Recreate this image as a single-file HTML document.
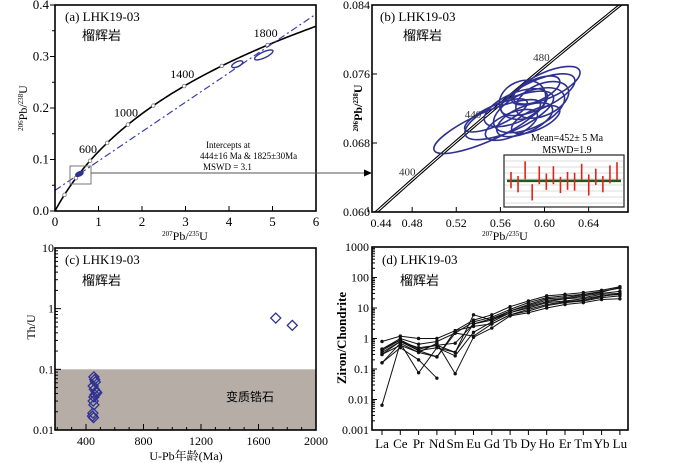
<!DOCTYPE html>
<html><head><meta charset="utf-8">
<style>
html,body{margin:0;padding:0;background:#fff;}
svg{display:block;font-family:"Liberation Serif","Noto Serif CJK SC",serif;}
.cn{font-family:"Liberation Sans","Noto Sans CJK SC",sans-serif;}
.cns{font-family:"Liberation Serif","Noto Serif CJK SC",serif;}
</style></head>
<body>
<svg id="fig" width="700" height="463" viewBox="0 0 700 463" xmlns="http://www.w3.org/2000/svg">
<defs>
<clipPath id="clipA"><rect x="55" y="5" width="261" height="206"/></clipPath>
<clipPath id="clipB"><rect x="372" y="5" width="256" height="207"/></clipPath>
</defs>
<g id="pa"></g>
<g id="pb"></g>
<g id="pc"></g>
<g id="pd"></g>
</svg>
<script>
// ---------- DATA ----------
// Panel a
const aTicksX = [0,1,2,3,4,5,6];
const aTicksY = [0.0,0.1,0.2,0.3,0.4];
const aAgeMarks = [200,400,600,800,1000,1200,1400,1600,1800,2000];
const aAgeLabels = [600,1000,1400,1800];
const interceptLower = 444;
const interceptUpper = 1825;
const aEllX = [4.19,4.80,0.56];
const aEllY = [0.285,0.303,0.072];
// Panel b
const bTicksX = [0.44,0.48,0.52,0.56,0.60,0.64];
const bTicksY = [0.060,0.068,0.076,0.084];
const bAgeLabels = [400,440,480];
const bEllX = [0.548,0.568,0.594,0.602,0.586,0.574,0.598,0.582,0.556,0.592,0.580,0.570,0.592];
const bEllY = [0.0699,0.0712,0.0736,0.0747,0.0718,0.0721,0.0730,0.0707,0.0712,0.0741,0.0730,0.0701,0.0707];
const bEllA = [58,48,40,36,38,34,28,30,34,26,24,28,26];
const bEllB = [20,22,20,18,25,20,22,18,14,15,26,16,14];
const wmAges = [453,448,465,438,459,451,459,447,452,451,463,447,457,448,460,464];
const wmErrs = [10,10,11,10,11,10,11,10,11,11,10,13,10,10,11,11];
const wmMean = 452;
// Panel c
const cTicksX = [400,800,1200,1600,2000];
const cTicksY = [0.01,0.1,1,10];
const cAges = [455,460,465,450,458,470,475,462,455,450,455,448,445,452,1720,1835];
const cThU = [0.075,0.068,0.062,0.053,0.047,0.043,0.041,0.038,0.035,0.030,0.026,0.019,0.017,0.016,0.70,0.53];
// Panel d
const ree = ["La","Ce","Pr","Nd","Sm","Eu","Gd","Tb","Dy","Ho","Er","Tm","Yb","Lu"];
const dTicksY = [0.001,0.01,0.1,1,10,100,1000];
const dTickLabels = ["0.001","0.01","0.1","1","10","100","1000"];
const s1 = [0.8,1.2,1.0,1.0,1.8,4,6,11,17,25,28,32,38,50];
const s2 = [0.45,1.0,0.65,0.8,1.5,3.5,5,9,15,22,25,28,35,45];
const s3 = [0.4,0.9,0.45,0.6,0.7,3,4,8,12,18,20,25,30,35];
const s4 = [0.35,0.8,0.4,0.5,0.35,6,4,7,10,15,17,20,25,28];
const s5 = [0.3,0.6,0.35,0.25,1.5,1.2,3,6,8,12,15,17,22,25];
const s6 = [0.16,0.5,0.2,0.05,null,null,null,null,null,null,null,null,null,null];
const s7 = [0.0065,0.7,0.075,0.5,0.27,1.6,3.5,7,11,16,20,22,28,30];
const s8 = [0.16,0.7,0.35,0.7,0.07,1.1,2.2,5.5,7,10,13,15,19,20];
const s9 = [0.45,0.9,0.4,0.25,1.8,2.5,3,6,9,13,16,18,24,30];
const s10 = [0.3,0.8,0.5,0.6,0.35,3,4.5,8,13,20,22,27,33,48];
const dSeries = [s1,s2,s3,s4,s5,s6,s7,s8,s9,s10];

// ---------- HELPERS ----------
const NS="http://www.w3.org/2000/svg";
function mk(tag, attrs, parent, txt){const e=document.createElementNS(NS,tag);for(const k in attrs)e.setAttribute(k,attrs[k]);if(txt!==undefined)e.textContent=txt;parent.appendChild(e);return e;}
const L238=1.55125e-10, L235=9.8485e-10;
function c68(t){return Math.exp(L238*t*1e6)-1;}
function c75(t){return Math.exp(L235*t*1e6)-1;}
const BLUE="#2e318f";
let el;

// ---------- PANEL A ----------
const pa=document.getElementById('pa');
const xa=v=>55+v*43.5, ya=v=>211-v*515;
let d="";
for(let t=0;t<=2200;t+=10){d+=(t?"L":"M")+xa(c75(t)).toFixed(2)+","+ya(c68(t)).toFixed(2);}
el=mk('path',{d:d,fill:'none',stroke:'#000','stroke-width':1.6,'clip-path':'url(#clipA)'},pa);


aAgeMarks.forEach(t=>{
 el=mk('circle',{cx:xa(c75(t)),cy:ya(c68(t)),r:1.8,fill:'#fff',stroke:'#777','stroke-width':0.8,'clip-path':'url(#clipA)'},pa);
 
 
});
aAgeLabels.forEach(t=>{
 el=mk('text',{x:xa(c75(t))-2,y:ya(c68(t))-8,'font-size':12,'text-anchor':'middle'},pa,String(t));
 
 
});
{const x1=c75(interceptLower),y1=c68(interceptLower),x2=c75(interceptUpper),y2=c68(interceptUpper);
 const m=(y2-y1)/(x2-x1), b=y1-m*x1;
 el=mk('line',{x1:xa(0),y1:ya(b),x2:xa(6),y2:ya(b+6*m),stroke:'#3b3fa8','stroke-width':1.2,'stroke-dasharray':'7,3,2,3','clip-path':'url(#clipA)'},pa);
 
 }
const aEllR=[[6,2.5],[10,3],[4,2]];
aEllX.forEach((v,i)=>{
 el=mk('ellipse',{cx:xa(v),cy:ya(aEllY[i]),rx:aEllR[i][0],ry:aEllR[i][1],fill:i==2?BLUE:'none',stroke:BLUE,'stroke-width':1.4,transform:`rotate(-25 ${xa(v)} ${ya(aEllY[i])})`},pa);
 
 
});
el=mk('rect',{x:55,y:5,width:261,height:206,fill:'none',stroke:'#000','stroke-width':1.6},pa);


aTicksX.forEach(v=>{
 el=mk('line',{x1:xa(v),y1:211,x2:xa(v),y2:206,stroke:'#000'},pa);
 
 
 el=mk('text',{x:xa(v),y:226,'font-size':13,'text-anchor':'middle'},pa,String(v));
 
 
});
aTicksY.forEach(v=>{
 el=mk('line',{x1:50,y1:ya(v),x2:55,y2:ya(v),stroke:'#000'},pa);
 
 
 el=mk('text',{x:49,y:ya(v)+4,'font-size':13,'text-anchor':'end'},pa,v.toFixed(1));
 
 
});
for(let v=0.05;v<0.4;v+=0.1){el=mk('line',{x1:52,y1:ya(v),x2:55,y2:ya(v),stroke:'#000'},pa);}
el=mk('text',{x:65,y:21,'font-size':13},pa,'(a) LHK19-03');


el=mk('text',{x:82,y:40,'font-size':13,class:'cn'},pa,'榴辉岩');


el=mk('text',{x:206,y:148,'font-size':9},pa,'Intercepts at');


el=mk('text',{x:200,y:159,'font-size':9},pa,'444±16 Ma & 1825±30Ma');


el=mk('text',{x:203,y:170,'font-size':9},pa,'MSWD = 3.1');


el=mk('rect',{x:70,y:166,width:21,height:18,fill:'none',stroke:'#777','stroke-width':1},pa);


el=mk('line',{x1:91,y1:173,x2:366,y2:173,stroke:'#555','stroke-width':1},pa);


el=mk('polygon',{points:'372,173 364,169.5 364,176.5',fill:'#000'},pa);


el=mk('text',{x:0,y:0,'font-size':12,transform:'translate(27,108) rotate(-90)','text-anchor':'middle'},pa);
el.innerHTML='<tspan font-size="7" dy="-4">206</tspan><tspan dy="4">Pb/</tspan><tspan font-size="7" dy="-4">238</tspan><tspan dy="4">U</tspan>';


el=mk('text',{x:185,y:240,'font-size':12,'text-anchor':'middle'},pa);
el.innerHTML='<tspan font-size="7" dy="-4">207</tspan><tspan dy="4">Pb/</tspan><tspan font-size="7" dy="-4">235</tspan><tspan dy="4">U</tspan>';



// ---------- PANEL B ----------
const pb=document.getElementById('pb');
const xb=v=>372+(v-0.4436)*1103, yb=v=>212-(v-0.060)*8625;
[-1.6,1.6].forEach(off=>{
 let dd="";
 for(let t=360;t<=540;t+=2){dd+=(t==360?"M":"L")+(xb(c75(t))+off).toFixed(2)+","+yb(c68(t)).toFixed(2);}
 el=mk('path',{d:dd,fill:'none',stroke:'#000','stroke-width':1.1,'clip-path':'url(#clipB)'},pb);
 
 
});
bEllX.forEach((v,i)=>{
 el=mk('ellipse',{cx:xb(v),cy:yb(bEllY[i]),rx:bEllA[i],ry:bEllB[i]/1.4,fill:'none',stroke:BLUE,'stroke-width':1.6,transform:`rotate(-24 ${xb(v)} ${yb(bEllY[i])})`,'clip-path':'url(#clipB)'},pb);
 
 
});
bAgeLabels.forEach(t=>{
 el=mk('text',{x:xb(c75(t))-8,y:yb(c68(t))-2,'font-size':11,fill:'#333','text-anchor':'middle'},pb,String(t));
 
 
});
el=mk('rect',{x:372,y:5,width:256,height:207,fill:'none',stroke:'#000','stroke-width':1.6},pb);


bTicksX.forEach(v=>{
 el=mk('line',{x1:xb(v),y1:212,x2:xb(v),y2:207,stroke:'#000'},pb);
 
 
 el=mk('text',{x:Math.max(xb(v),381),y:227,'font-size':12,'text-anchor':'middle'},pb,v.toFixed(2));
 
 
});
bTicksY.forEach(v=>{
 el=mk('line',{x1:372,y1:yb(v),x2:377,y2:yb(v),stroke:'#000'},pb);
 
 
 el=mk('text',{x:370,y:yb(v)+4,'font-size':12,'text-anchor':'end'},pb,v.toFixed(3));
 
 
});
el=mk('text',{x:380,y:21,'font-size':13},pb,'(b) LHK19-03');


el=mk('text',{x:403,y:40,'font-size':13,class:'cn'},pb,'榴辉岩');


el=mk('text',{x:567,y:141,'font-size':10,'text-anchor':'middle'},pb,'Mean=452± 5  Ma');


el=mk('text',{x:567,y:153,'font-size':10,'text-anchor':'middle'},pb,'MSWD=1.9');


// inset
const ix0=504,ix1=624,iy0=155,iy1=207;
const iy=v=>iy1-(v-420)*(53/65);
el=mk('rect',{x:ix0,y:iy0,width:ix1-ix0,height:iy1-iy0,fill:'#fff',stroke:'#222','stroke-width':1.2},pb);


for(let g=iy0+6;g<iy1;g+=6){el=mk('line',{x1:ix0+1,y1:g,x2:ix1-1,y2:g,stroke:'#bbb','stroke-width':0.6},pb);}
el=mk('line',{x1:ix0+3,y1:iy(wmMean),x2:ix1-3,y2:iy(wmMean),stroke:'#1d5a1d','stroke-width':2.5},pb);


wmAges.forEach((a,i)=>{
 const x=511+i*(106/(wmAges.length-1));
 el=mk('line',{x1:x,y1:iy(a+wmErrs[i]),x2:x,y2:iy(a-wmErrs[i]),stroke:'#e0241b','stroke-width':1.6},pb);
 
 
});
el=mk('text',{x:0,y:0,'font-size':12,'font-weight':'bold',transform:'translate(362,108) rotate(-90)','text-anchor':'middle'},pb);
el.innerHTML='<tspan font-size="7" dy="-4">206</tspan><tspan dy="4">Pb/</tspan><tspan font-size="7" dy="-4">238</tspan><tspan dy="4">U</tspan>';


el=mk('text',{x:505,y:240,'font-size':12,'text-anchor':'middle'},pb);
el.innerHTML='<tspan font-size="7" dy="-4">207</tspan><tspan dy="4">Pb/</tspan><tspan font-size="7" dy="-4">235</tspan><tspan dy="4">U</tspan>';



// ---------- PANEL C ----------
const pc=document.getElementById('pc');
const xc=v=>316-(2000-v)*0.14375, yc=v=>430-(Math.log10(v)+2)*60.67;
el=mk('rect',{x:55,y:yc(0.1),width:261,height:430-yc(0.1),fill:'#b6ada7'},pc);


el=mk('text',{x:250,y:401,'font-size':12,class:'cn','text-anchor':'middle'},pc,'变质锆石');


cAges.forEach((a,i)=>{
 const x=xc(a),y=yc(cThU[i]);
 el=mk('polygon',{points:`${x},${y-5} ${x+5},${y} ${x},${y+5} ${x-5},${y}`,fill:'none',stroke:BLUE,'stroke-width':1.3},pc);
 
 
});
el=mk('rect',{x:55,y:248,width:261,height:182,fill:'none',stroke:'#000','stroke-width':1.6},pc);


for(let a=200;a<=2000;a+=100){if(xc(a)<56)continue;el=mk('line',{x1:xc(a),y1:430,x2:xc(a),y2:a%400==0?424:427,stroke:'#000'},pc);}
cTicksX.forEach(v=>{
 el=mk('text',{x:xc(v),y:445,'font-size':12,'text-anchor':'middle'},pc,String(v));
 
 
});
cTicksY.forEach((v,k)=>{
 el=mk('text',{x:54,y:yc(v)+4,'font-size':12,'text-anchor':'end'},pc,String(v));
 
 
 if(k<3)for(let m=1;m<10;m++){el=mk('line',{x1:55,y1:yc(v*m),x2:m==1?61:58,y2:yc(v*m),stroke:'#000'},pc);}
});
el=mk('text',{x:65,y:264,'font-size':13},pc,'(c) LHK19-03');


el=mk('text',{x:82,y:285,'font-size':13,class:'cn'},pc,'榴辉岩');


el=mk('text',{x:0,y:0,'font-size':12,transform:'translate(35,327) rotate(-90)','text-anchor':'middle'},pc,'Th/U');


el=mk('text',{x:186,y:460,'font-size':12,class:'cns','text-anchor':'middle'},pc,'U-Pb年龄(Ma)');



// ---------- PANEL D ----------
const pd=document.getElementById('pd');
const xd=i=>382+i*18.3, yd=v=>430-(Math.log10(v)+3)*30.5;
dSeries.forEach((s,si)=>{
 let dd="",pen=false;
 s.forEach((v,i)=>{if(v==null){pen=false;return;}dd+=(pen?"L":"M")+xd(i).toFixed(1)+","+yd(v).toFixed(1);pen=true;});
 el=mk('path',{d:dd,fill:'none',stroke:'#111','stroke-width':1},pd);
 
 
 s.forEach((v,i)=>{if(v==null)return;
  el=mk('circle',{cx:xd(i),cy:yd(v),r:1.7,fill:'#111'},pd);
  
  
 });
});
el=mk('rect',{x:372,y:247,width:256,height:183,fill:'none',stroke:'#000','stroke-width':1.6},pd);


ree.forEach((r,i)=>{
 el=mk('line',{x1:xd(i),y1:430,x2:xd(i),y2:435,stroke:'#000'},pd);
 
 
 el=mk('text',{x:xd(i),y:448,'font-size':13,'text-anchor':'middle'},pd,r);
 
 
});
dTicksY.forEach((v,k)=>{
 el=mk('text',{x:369,y:yd(v)+4,'font-size':12,'text-anchor':'end'},pd,dTickLabels[k]);
 
 
 if(k<6)for(let m=1;m<10;m++){el=mk('line',{x1:372,y1:yd(v*m),x2:m==1?377:375,y2:yd(v*m),stroke:'#000'},pd);}
});
el=mk('text',{x:382,y:264,'font-size':13},pd,'(d) LHK19-03');


el=mk('text',{x:400,y:285,'font-size':13,class:'cn'},pd,'榴辉岩');


el=mk('text',{x:0,y:0,'font-size':13,'font-weight':'bold',transform:'translate(346,338) rotate(-90)','text-anchor':'middle'},pd,'Ziron/Chondrite');


</script>
</body></html>
